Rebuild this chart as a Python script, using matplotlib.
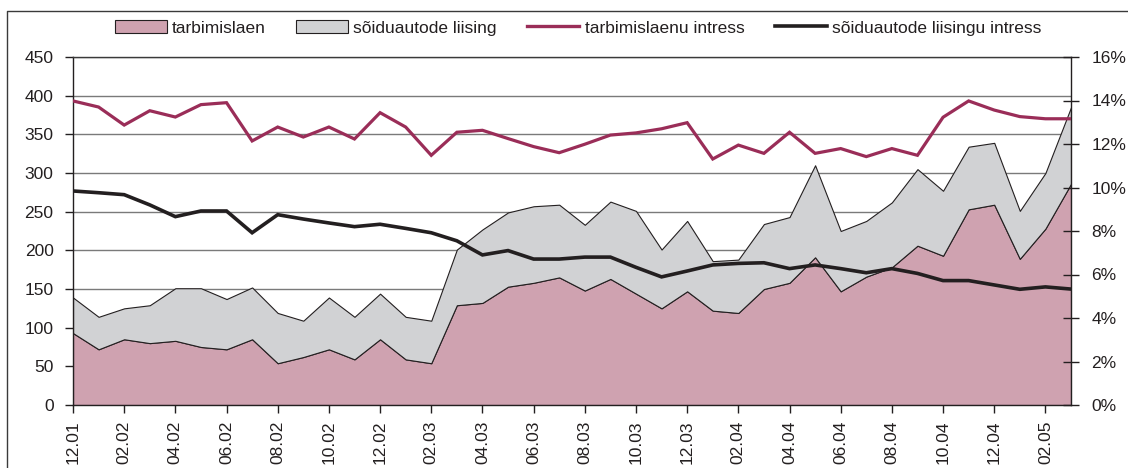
import matplotlib
matplotlib.use("Agg")
import matplotlib.pyplot as plt
from matplotlib.patches import Patch
from matplotlib.lines import Line2D
from matplotlib.ticker import FuncFormatter

plt.rcParams['font.family'] = ['Liberation Sans', 'DejaVu Sans']

months = ["12.01", "01.02", "02.02", "03.02", "04.02", "05.02", "06.02", "07.02", "08.02", "09.02",
          "10.02", "11.02", "12.02", "01.03", "02.03", "03.03", "04.03", "05.03", "06.03", "07.03",
          "08.03", "09.03", "10.03", "11.03", "12.03", "01.04", "02.04", "03.04", "04.04", "05.04",
          "06.04", "07.04", "08.04", "09.04", "10.04", "11.04", "12.04", "01.05", "02.05", "03.05"]

tarbimislaen = [93, 72, 85, 80, 83, 75, 72, 85, 54, 62, 72, 59, 85, 59, 54, 129, 132, 153, 158, 165,
                148, 163, 144, 125, 147, 122, 119, 150, 158, 191, 147, 166, 178, 206, 193, 253, 259, 189, 228, 286]

soiduautode_liising = [46, 42, 40, 49, 68, 76, 65, 67, 65, 47, 67, 55, 59, 55, 55, 72, 95, 96, 99, 94,
                       85, 100, 107, 76, 91, 64, 69, 84, 85, 119, 78, 72, 84, 99, 84, 81, 80, 62, 72, 99]

tarbimislaenu_intress = [13.98, 13.70, 12.87, 13.53, 13.24, 13.81, 13.90, 12.14, 12.78, 12.32,
                         12.78, 12.23, 13.44, 12.78, 11.48, 12.54, 12.63, 12.25, 11.88, 11.60,
                         11.99, 12.41, 12.51, 12.70, 12.98, 11.31, 11.95, 11.57, 12.54, 11.57,
                         11.79, 11.42, 11.79, 11.48, 13.23, 13.98, 13.56, 13.26, 13.16, 13.16]

liisingu_intress = [9.84, 9.76, 9.67, 9.20, 8.66, 8.92, 8.92, 7.92, 8.75, 8.55,
                    8.37, 8.20, 8.31, 8.12, 7.92, 7.55, 6.90, 7.10, 6.71, 6.71,
                    6.80, 6.80, 6.33, 5.89, 6.16, 6.44, 6.51, 6.54, 6.27, 6.44,
                    6.27, 6.08, 6.27, 6.05, 5.72, 5.72, 5.52, 5.32, 5.43, 5.33]

legend_labels = ["tarbimislaen", "sõiduautode liising", "tarbimislaenu intress", "sõiduautode liisingu intress"]

PINK = '#CFA2B0'
GRAY = '#D1D2D4'
MAGENTA = '#9A2D58'
DARK = '#231F20'
FS = 12.5

W, H = 1128, 468
fig = plt.figure(figsize=(W / 100, H / 100), dpi=100)
ax = fig.add_axes([73 / W, 1 - 405 / H, (1071 - 73) / W, (405 - 57) / H])

x = list(range(len(months)))
ax.stackplot(x, tarbimislaen, soiduautode_liising, colors=[PINK, GRAY],
             edgecolor=DARK, linewidth=0.8, zorder=2)

ax.set_xlim(0, len(months) - 1)
ax.set_ylim(0, 450)
ax.set_yticks(range(0, 451, 50))
ax.set_axisbelow(True)
ax.yaxis.grid(True, color='#7a7a7a', linewidth=1.0, zorder=0)
ax.set_xticks(x[::2])
ax.set_xticklabels(months[::2], rotation=90, fontsize=FS, color=DARK)
ax.tick_params(axis='x', direction='out', length=6, width=1, pad=5, color=DARK)
ax.tick_params(axis='y', direction='out', length=6, width=1, pad=8, labelsize=FS, labelcolor=DARK, color=DARK)
for s in ['left', 'bottom']:
    ax.spines[s].set_color(DARK)
    ax.spines[s].set_linewidth(1.0)
ax.spines['top'].set_color('#3a3a3a')
ax.spines['top'].set_linewidth(1.0)
ax.spines['right'].set_visible(False)

ax2 = ax.twinx()
ax2.plot(x, tarbimislaenu_intress, color=MAGENTA, linewidth=2.3, solid_joinstyle='miter', zorder=3)
ax2.plot(x, liisingu_intress, color=DARK, linewidth=2.6, solid_joinstyle='miter', zorder=4)
ax2.set_ylim(0, 16)
ax2.set_yticks(range(0, 17, 2))
ax2.yaxis.set_major_formatter(FuncFormatter(lambda v, p: f"{int(v)}%"))
ax2.tick_params(axis='y', direction='inout', length=11, width=1, pad=9, labelsize=FS, labelcolor=DARK, color=DARK)
for s in ['left', 'bottom', 'top']:
    ax2.spines[s].set_visible(False)
ax2.spines['right'].set_color(DARK)
ax2.spines['right'].set_linewidth(1.0)

handles = [Patch(facecolor=PINK, edgecolor=DARK, linewidth=0.8),
           Patch(facecolor=GRAY, edgecolor=DARK, linewidth=0.8),
           Line2D([0], [0], color=MAGENTA, linewidth=2.4),
           Line2D([0], [0], color=DARK, linewidth=2.6)]
fig.legend(handles, legend_labels, loc='center', bbox_to_anchor=(578 / W, 1 - 28 / H), ncol=4,
           frameon=False, fontsize=FS, handlelength=3.0, handleheight=0.8, handletextpad=0.3,
           columnspacing=1.75, labelcolor=DARK)

# outer frame (top and left visible within the image)
fig.add_artist(Line2D([7 / W, 7 / W, 1.0], [0.0, 1 - 11 / H, 1 - 11 / H],
                      transform=fig.transFigure, color='#3a3a3a', linewidth=1.0))

fig.savefig("out.png", dpi=100)
